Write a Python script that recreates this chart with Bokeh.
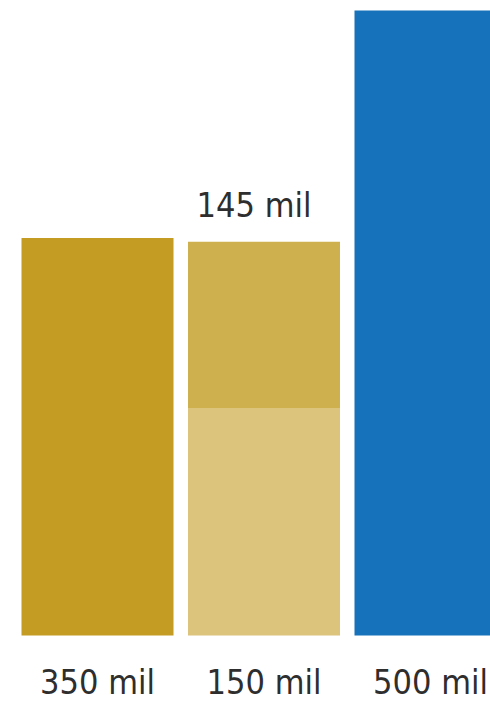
from bokeh.plotting import figure
from bokeh.models import ColumnDataSource, Range1d
from bokeh.core.properties import value
from bokeh.embed import file_html
from bokeh.resources import INLINE

# --- data (heights; labels as printed) ---
positions = [0, 1, 2]
lower_heights = [318, 182, 500]          # main bar / lower segment
upper_heights = [0, 133, 0]              # upper segment (only middle bar)
bar_labels = ["350 mil", "150 mil", "500 mil"]
top_label = "145 mil"
lower_colors = ["#C49C23", "#DCC47D", "#1672BB"]
upper_color = "#CFB04E"

W, H = 490, 704
px_per_cat = 166.5
px_per_unit = 1.25
base_px = 635  # screen y of the baseline

x_start = -97 / px_per_cat
y_start = -(H - base_px) / px_per_unit

p = figure(width=W, height=H, output_backend="svg", toolbar_location=None,
           x_range=Range1d(x_start, x_start + W / px_per_cat),
           y_range=Range1d(y_start, y_start + H / px_per_unit),
           min_border=0, outline_line_color=None)
p.axis.visible = False
p.grid.visible = False
p.background_fill_color = "white"
p.border_fill_color = "white"

bw = 152 / px_per_cat

src = ColumnDataSource(dict(x=positions, top=lower_heights, color=lower_colors,
                            label=bar_labels))
p.vbar(x="x", bottom=0, top="top", width=bw, color="color", line_color=None, source=src)

ux = [positions[i] for i in range(3) if upper_heights[i] > 0]
ub = [lower_heights[i] for i in range(3) if upper_heights[i] > 0]
ut = [lower_heights[i] + upper_heights[i] for i in range(3) if upper_heights[i] > 0]
usrc = ColumnDataSource(dict(x=ux, bottom=ub, top=ut, label=[top_label] * len(ux)))
p.vbar(x="x", bottom="bottom", top="top", width=bw, color=upper_color, line_color=None,
       source=usrc)

font = value("DejaVu Sans Condensed")
fs = "34px"
p.text(x="x", y=0, text="label", source=src, text_font=font, text_font_size=fs,
       text_color="#2e2e2e", text_align="center", text_baseline="alphabetic", y_offset=46)
p.text(x="x", y="top", text="label", source=usrc, text_font=font, text_font_size=fs,
       text_color="#2e2e2e", text_align="center", text_baseline="alphabetic",
       x_offset=-10, y_offset=-37)

open("out.html", "w").write(file_html(p, INLINE))
